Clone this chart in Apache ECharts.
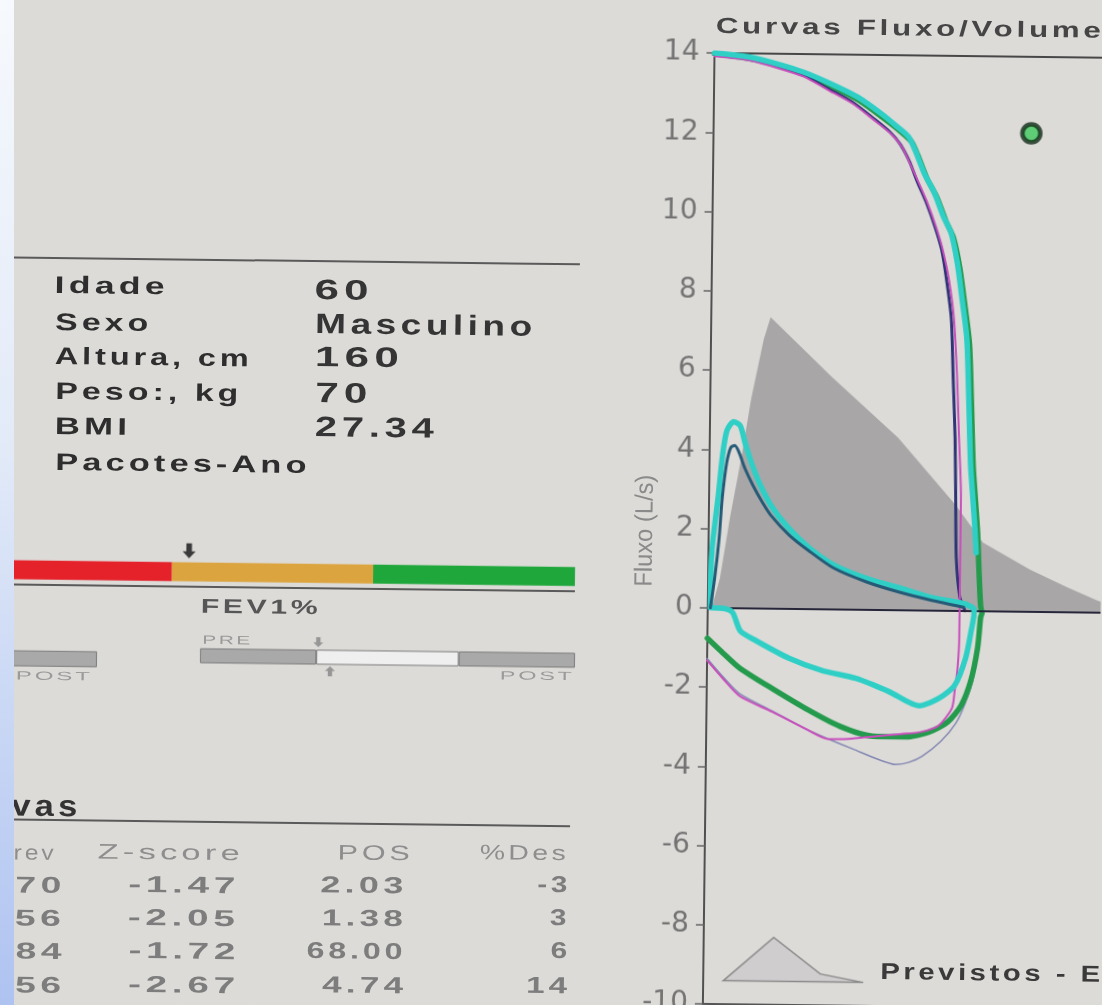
<!DOCTYPE html>
<html lang="pt">
<head>
<meta charset="utf-8">
<title>Curvas Fluxo/Volume</title>
<script src="https://cdn.jsdelivr.net/npm/echarts@6/dist/echarts.min.js"></script>
<style>
  html, body { margin:0; padding:0; width:1102px; height:1005px; overflow:hidden; background:#dddbd8; }
  #folha { position:absolute; left:0; top:0; width:1102px; height:1005px; background:#dddbd8;
           transform-origin:551px 502.5px; transform:rotate(0.7deg); }
  #grafico { position:absolute; left:0; top:0; width:1102px; height:1005px; }
  #textos { position:absolute; left:0; top:0; width:1102px; height:1005px; pointer-events:none; }
  .t { position:absolute; white-space:nowrap; }
  .regua { position:absolute; height:2px; background:#5a5a5a; }
  #margem { position:absolute; left:0; top:0; width:14px; height:1005px;
            background:linear-gradient(180deg,#f6f9fd 0%,#e2eaf8 45%,#afc3f1 100%); }
</style>
</head>
<body>
<div id="folha">
  <div id="grafico"></div>
  <div id="textos"></div>
</div>
<div id="margem"></div>
<script>
// ---------- Flow/volume curves: [volume (L), flow (L/s)] ----------
const previstos = [[0.03,0],[0.09,0.75],[0.16,2.27],[0.24,3.77],[0.31,5.28],[0.40,6.79],[0.45,7.35],
  [0.92,5.86],[1.43,4.34],[1.87,2.67],[2.08,1.73],[2.44,1.06],[2.72,0.63],[2.96,0.29],[3.10,0.14],[3.20,0.08]];

const cianoLaco = [[0.02,0],[0.02,0.75],[0.03,1.58],[0.07,2.83],[0.10,3.89],[0.13,4.48],[0.18,4.70],
  [0.23,4.60],[0.27,4.15],[0.32,3.65],[0.38,3.16],[0.47,2.60],[0.59,2.09],[0.76,1.55],[0.95,1.12],
  [1.19,0.80],[1.44,0.57],[1.69,0.33],[1.95,0.17],[2.02,0.04],[2.02,-0.06],[2.00,-0.50],[1.96,-1.19],
  [1.88,-1.88],[1.76,-2.22],[1.61,-2.41],[1.38,-2.06],[1.13,-1.74],[0.87,-1.55],[0.62,-1.25],
  [0.37,-0.82],[0.25,-0.58],[0.19,-0.12],[0.13,-0.02],[0.03,0]];

const cianoTopo = [[0.00,14.00],[0.26,13.91],[0.48,13.74],[0.68,13.54],[0.89,13.25],[1.09,12.93],
  [1.27,12.52],[1.39,12.20],[1.48,11.94],[1.53,11.61],[1.60,11.04],[1.68,10.54],[1.75,9.95],
  [1.81,9.54],[1.86,8.79],[1.90,7.87],[1.94,6.86],[1.96,5.36],[1.98,3.68],[2.00,2.85],[2.02,2.02],[2.03,1.47]];

const verdeLaco = [[0.00,13.98],[0.26,13.87],[0.49,13.69],[0.69,13.48],[0.90,13.18],[1.10,12.85],
  [1.28,12.43],[1.41,12.10],[1.50,11.83],[1.55,11.49],[1.62,10.92],[1.70,10.42],[1.77,9.83],
  [1.83,9.40],[1.88,8.65],[1.92,7.75],[1.96,6.75],[1.98,5.30],[2.00,3.65],[2.02,2.80],[2.04,1.95],
  [2.05,1.25],[2.06,0.60],[2.07,0.10],[2.08,-0.05],[2.07,-0.16],[2.05,-0.93],[2.00,-1.78],
  [1.93,-2.39],[1.83,-2.81],[1.69,-3.07],[1.51,-3.20],[1.26,-3.19],[1.01,-2.95],[0.76,-2.53],
  [0.50,-2.03],[0.25,-1.52],[0.12,-1.14],[0.00,-0.77]];

const escuroTopo = [[0.00,13.95],[0.26,13.86],[0.48,13.67],[0.68,13.46],[0.86,13.14],[1.05,12.80],
  [1.21,12.40],[1.34,12.05],[1.42,11.74],[1.49,11.31],[1.55,10.81],[1.62,10.29],[1.69,9.66],
  [1.74,9.11],[1.78,8.36],[1.82,7.37],[1.84,5.86],[1.86,4.35],[1.87,2.85],[1.88,1.34],[1.91,0.34],
  [1.94,0.09],[1.95,0]];

const rosaLaco = [[0.00,13.92],[0.26,13.83],[0.48,13.64],[0.68,13.43],[0.86,13.11],[1.05,12.77],
  [1.21,12.37],[1.34,12.03],[1.43,11.69],[1.49,11.29],[1.56,10.79],[1.63,10.27],[1.70,9.64],
  [1.75,9.09],[1.80,8.33],[1.84,7.37],[1.87,5.86],[1.89,4.35],[1.91,2.85],[1.91,1.34],[1.91,0.09],
  [1.91,-0.68],[1.90,-1.44],[1.88,-2.03],[1.86,-2.47],[1.76,-2.91],[1.63,-3.07],[1.48,-3.13],
  [1.29,-3.19],[1.08,-3.27],[0.93,-3.28],[0.76,-3.04],[0.50,-2.61],[0.25,-2.22],[0.12,-1.78],[0.00,-1.33]];

const cinzaIns = [[2.08,0.10],[2.07,-0.16],[2.05,-0.93],[2.02,-1.70],[1.96,-2.34],[1.89,-2.85],
  [1.78,-3.30],[1.64,-3.68],[1.54,-3.84],[1.44,-3.90],[1.31,-3.78],[1.12,-3.53],[0.93,-3.28],
  [0.76,-3.04],[0.50,-2.59],[0.25,-2.16],[0.12,-1.73],[0.00,-1.28]];

const escuroPico = [[0.02,0],[0.05,0.75],[0.08,1.76],[0.10,2.77],[0.13,3.65],[0.16,4.05],[0.19,4.10],
  [0.22,3.95],[0.27,3.52],[0.33,3.11],[0.40,2.70],[0.47,2.35],[0.61,1.86],[0.76,1.47],[0.95,1.04],
  [1.20,0.70],[1.44,0.46],[1.69,0.26],[1.94,0.09]];

const pfePrevisto = [[2.41,12.07]];

// ---------- Axis ticks ----------
const fluxoMin = -10, fluxoMax = 14, fluxoPasso = 2;
const volumeMin = 0, volumeMax = 3.2, volumePasso = 1;

// ---------- Gauges ----------
const faixaRisco = [28.9, 35.5, 35.6];
const marcaRisco = 31.9;
const faixaFev = [31, 38, 31];
const marcaPre = 31.5;
const marcaPos = 34.7;

// ---------- Patient data and table ----------
const rotulos = ['Idade','Sexo','Altura, cm','Peso:, kg','BMI','Pacotes-Ano'];
const valores = ['60','Masculino','160','70','27.34'];
const cabecalho = ['rev','Z-score','POS','%Des'];
const colPrev = ['70','56','84','56'];
const colZ = ['-1.47','-2.05','-1.72','-2.67'];
const colPos = ['2.03','1.38','68.00','4.74'];
const colDes = ['-3','3','6','14'];

// ---------- Page geometry (sheet is slightly turned) ----------
const ROT = 0.7, CX = 551, CY = 502.5;
function toLocal(x, y) {
  const a = ROT * Math.PI / 180, s = Math.sin(a), c = Math.cos(a);
  const dx = x - CX, dy = y - CY;
  return [CX + dx * c + dy * s, CY - dx * s + dy * c];
}

const camada = document.getElementById('textos');
const medidor = document.createElement('canvas').getContext('2d');
const FAM = '"Liberation Sans", Arial, sans-serif';

// Text fitted between x0 and x1 (screen), vertically centred on yc.
// Glyphs keep a small tracking and are stretched horizontally to the span.
function texto(txt, x0, x1, yc, size, weight, color, opts) {
  opts = opts || {};
  const font = `${weight} ${size}px ${FAM}`;
  medidor.font = font;
  const nat = medidor.measureText(txt).width;
  const n = [...txt].length;
  const ls = n > 1 ? (opts.ls !== undefined ? opts.ls : 0.12) * size : 0;
  const natTot = nat + ls * (n - 1);
  let sx, w;
  if (n === 1) { sx = opts.sx1 || 1.25; w = natTot * sx; x0 = x1 - w; }
  else { w = x1 - x0; sx = w / natTot; }
  const [u, v] = toLocal((x0 + x1) / 2, yc);
  const el = document.createElement('div');
  el.className = 't';
  el.textContent = txt;
  el.style.font = font;
  el.style.color = color;
  el.style.letterSpacing = ls + 'px';
  el.style.lineHeight = size + 'px';
  el.style.top = (v - size / 2) + 'px';
  if (opts.vertical) {
    el.style.left = (u - natTot / 2) + 'px';
    el.style.width = natTot + 'px';
    el.style.transformOrigin = '50% 50%';
    el.style.transform = `rotate(-90deg) scaleX(${sx})`;
  } else {
    el.style.left = (u - w / 2) + 'px';
    el.style.transformOrigin = '0 50%';
    el.style.transform = `scaleX(${sx})`;
  }
  camada.appendChild(el);
}
function regua(x0, x1, yc) {
  const [u, v] = toLocal((x0 + x1) / 2, yc);
  const el = document.createElement('div');
  el.className = 'regua';
  el.style.left = (u - (x1 - x0) / 2) + 'px';
  el.style.top = (v - 1) + 'px';
  el.style.width = (x1 - x0) + 'px';
  camada.appendChild(el);
}
function faixaGrid(x0, x1, yc, h) {
  const [u, v] = toLocal((x0 + x1) / 2, yc);
  return { left: u - (x1 - x0) / 2, top: v - h / 2, width: x1 - x0, height: h,
           outerBoundsMode: 'none', containLabel: false };
}

// ---------- Left panel ----------
regua(14, 580, 261);
const rotuloDir = [165, 148, 249, 238, 127, 306];
const rotuloY = [286, 322, 357, 392, 426, 463];
rotulos.forEach((r, i) => texto(r, 55, rotuloDir[i], rotuloY[i], 24, 'bold', '#2e2e2e'));
const valorDir = [369, 532, 399, 367, 434];
const valorY = [290, 325, 358, 393, 428];
valores.forEach((r, i) => texto(r, 315, valorDir[i], valorY[i], 28, 'bold', '#353535'));

regua(14, 575, 588);
texto('FEV1%', 201, 318, 606, 20, 'bold', '#565656');
texto('PRE', 202, 250, 640, 12, 'normal', '#9a9a9a');
texto('POST', 500, 572, 676, 12, 'normal', '#9a9a9a');
texto('POST', 16, 90, 676, 12, 'normal', '#9a9a9a');

texto('vas', 11, 77, 806, 30, 'bold', '#333');
regua(14, 570, 823);
const cabX = [[14, 54], [98, 240], [338, 410], [480, 566]];
cabecalho.forEach((c, i) => texto(c, cabX[i][0], cabX[i][1], 852, 21, 'normal', '#8e8e8e'));
const linhaY = [885, 918, 951, 985];
const posX0 = [320, 322, 307, 322];
const desX0 = [537, 0, 0, 526];
linhaY.forEach((y, i) => {
  texto(colPrev[i], 15, 61, y, 23, 'bold', '#7d7d7d');
  texto(colZ[i], 128, 235, y, 23, 'bold', '#7d7d7d');
  texto(colPos[i], posX0[i], 403, y, 23, 'bold', '#7d7d7d');
  texto(colDes[i], desX0[i], 567, y, 23, 'bold', '#7d7d7d', { sx1: 1.3 });
});

// ---------- Chart texts ----------
texto('Curvas Fluxo/Volume', 716, 1101, 28, 22, 'bold', '#454545');
texto('Fluxo (L/s)', 588, 700, 531, 25, 'normal', '#8a8a8a', { vertical: true, ls: 0 });
texto('Previstos - E', 880, 1100, 973, 23, 'bold', '#3a3a3a');

// ---------- ECharts ----------
const chart = echarts.init(document.getElementById('grafico'), null, { renderer: 'canvas' });
const legPos = toLocal(723, 936);
const setaBaixo = 'path://M4,0 L10,0 L10,8 L14,8 L7,15 L0,8 L4,8 Z';
const setaCima = 'path://M7,0 L14,7 L10,7 L10,15 L4,15 L4,7 L0,7 Z';

function curva(name, data, color, width, z) {
  return { name, type: 'line', xAxisIndex: 0, yAxisIndex: 0, data, symbol: 'none', smooth: 0.25,
           smoothMonotone: 'none', clip: true, silent: true, z,
           lineStyle: { color, width, cap: 'round', join: 'round' }, itemStyle: { color } };
}
function barras(valoresFaixa, idx, cores, borda) {
  return valoresFaixa.map((v, i) => ({
    type: 'bar', xAxisIndex: idx, yAxisIndex: idx, stack: 'faixa' + idx, data: [v],
    barWidth: '100%', silent: true,
    itemStyle: Object.assign({ color: cores[i] }, borda ? { borderColor: '#7c7c7c', borderWidth: 1 } : {})
  }));
}
function seta(idx, valor, simbolo, tam, desloc, cor) {
  return { type: 'scatter', xAxisIndex: idx, yAxisIndex: idx, data: [[valor, 0]], symbol: simbolo,
           symbolSize: tam, symbolOffset: [0, desloc], silent: true, z: 5, itemStyle: { color: cor } };
}

const option = {
  animation: false,
  backgroundColor: 'transparent',
  textStyle: { fontFamily: FAM },
  grid: [
    { left: 709, top: 51, width: 422, height: 951, show: true, borderColor: '#474747', borderWidth: 2,
      backgroundColor: 'transparent', outerBoundsMode: 'none', containLabel: false },
    faixaGrid(8, 575, 573, 19),
    faixaGrid(200, 575, 658, 15),
    faixaGrid(-278, 97, 657, 16)
  ],
  xAxis: [
    { gridIndex: 0, type: 'value', min: volumeMin, max: volumeMax, interval: volumePasso,
      axisLine: { show: true, onZero: false, lineStyle: { color: '#555', width: 2 } },
      axisTick: { show: true, length: 6, lineStyle: { color: '#666', width: 1.5 } },
      axisLabel: { show: true, color: '#777', fontSize: 24 }, splitLine: { show: false } },
    { gridIndex: 1, type: 'value', min: 0, max: 100, show: false },
    { gridIndex: 2, type: 'value', min: 0, max: 100, show: false },
    { gridIndex: 3, type: 'value', min: 0, max: 100, show: false }
  ],
  yAxis: [
    { gridIndex: 0, type: 'value', min: fluxoMin, max: fluxoMax, interval: fluxoPasso,
      axisLine: { show: true, onZero: false, lineStyle: { color: '#505050', width: 2 } },
      axisTick: { show: true, length: 8, lineStyle: { color: '#666', width: 1.5 } },
      axisLabel: { color: '#737373', fontSize: 28, fontFamily: '"DejaVu Sans", sans-serif', margin: 15 },
      splitLine: { show: false } },
    { gridIndex: 1, type: 'category', data: ['faixa'], show: false },
    { gridIndex: 2, type: 'category', data: ['FEV1%'], show: false },
    { gridIndex: 3, type: 'category', data: ['faixa'], show: false }
  ],
  legend: {
    left: legPos[0], top: legPos[1], padding: 0, selectedMode: false,
    icon: 'path://M0,44 L50,0 L97,36 L140,44 Z', itemWidth: 140, itemHeight: 44,
    formatter: () => '', data: ['Previstos - E'],
    itemStyle: { color: '#cfcdcd', borderColor: '#8a8a8a', borderWidth: 1.5 }
  },
  series: [
    { name: 'Previstos - E', type: 'line', xAxisIndex: 0, yAxisIndex: 0, data: previstos,
      symbol: 'none', smooth: false, silent: true, z: 1,
      lineStyle: { width: 0, opacity: 0 }, itemStyle: { color: '#cfcdcd' },
      areaStyle: { color: '#a8a6a7', opacity: 1 },
      markLine: { silent: true, symbol: 'none', label: { show: false },
                  lineStyle: { color: '#26263a', width: 2, type: 'solid' }, data: [{ yAxis: 0 }] } },
    curva('Inspiração 4', cinzaIns, '#8388b2', 1.5, 2),
    curva('Esforço 2', verdeLaco, '#249a4c', 5.5, 3),
    curva('Esforço 3', escuroTopo, '#2e3475', 3, 4),
    curva('Esforço 4', rosaLaco, '#c84fbc', 2, 5),
    curva('Esforço 1', cianoTopo, '#2fcfc6', 5.5, 6),
    curva('Esforço 1b', cianoLaco, '#2fcfc6', 5.5, 7),
    curva('Esforço 3b', escuroPico, '#255a76', 3, 8),
    { name: 'PFE previsto', type: 'scatter', xAxisIndex: 0, yAxisIndex: 0, data: pfePrevisto,
      symbol: 'circle', symbolSize: 18, silent: true, z: 9,
      itemStyle: { color: '#3dc95b', borderColor: '#122a18', borderWidth: 4.5 } },
    ...barras(faixaRisco, 1, ['#e5212a', '#dba43f', '#20a73b'], false),
    seta(1, marcaRisco, setaBaixo, [13, 15], -21, '#111'),
    ...barras(faixaFev, 2, ['#a9a9a9', '#efefef', '#a9a9a9'], true),
    seta(2, marcaPre, setaBaixo, [10, 10], -15, '#858585'),
    seta(2, marcaPos, setaCima, [10, 10], 14, '#858585'),
    ...barras(faixaFev, 3, ['#a9a9a9', '#efefef', '#a9a9a9'], true)
  ]
};
chart.setOption(option);
</script>
</body>
</html>
